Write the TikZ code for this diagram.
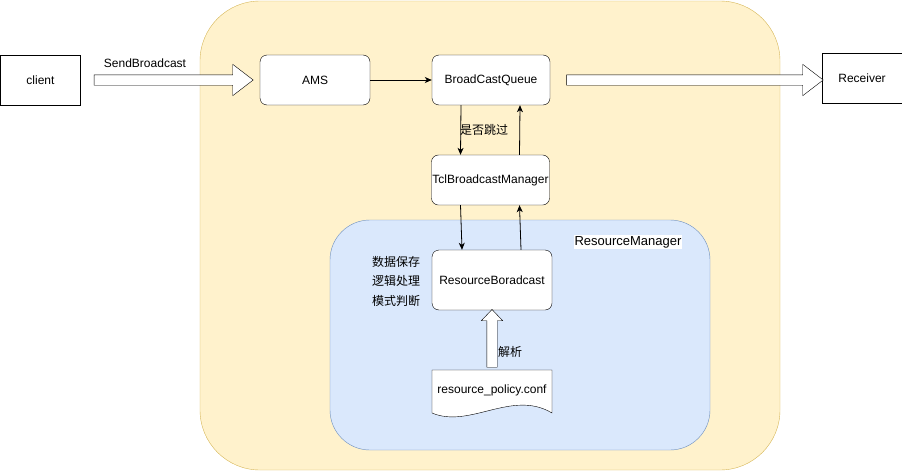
\documentclass[tikz,border=0pt]{standalone}
\usepackage{fontspec}
\setmainfont{Liberation Sans}
\newfontfamily\cjk{Noto Sans CJK SC}
\usetikzlibrary{arrows.meta,shapes.arrows,calc}

\definecolor{outerfill}{HTML}{FFF2CC}
\definecolor{outerdraw}{HTML}{D6B656}
\definecolor{innerfill}{HTML}{DAE8FC}
\definecolor{innerdraw}{HTML}{6C8EBF}

% hollow arrow from #1 to #2, shaft half width #3, extra options #4
\newcommand{\fatarrow}[4]{%
  \path let \p1=($(#2)-(#1)$), \n1={veclen(\x1,\y1)}, \n2={atan2(\y1,\x1)} in
    ($(#1)!0.5!(#2)$) node[single arrow, draw, fill=white, inner sep=#3,
      minimum height=\n1, rotate=\n2, #4] {};}

\begin{document}
\begin{tikzpicture}[x=1pt, y=-1pt,
  every node/.style={font=\fontsize{12}{14}\selectfont},
  cjktext/.style={font=\cjk\fontsize{12}{14}\selectfont},
  box/.style={draw, fill=white, minimum height=50, inner sep=1pt},
  rbox/.style={box, rounded corners=7},
  flow/.style={draw, line width=0.8pt, -{Stealth[length=7pt,width=6pt,inset=2pt]}}]
  \useasboundingbox (0,0) rectangle (902,471);

  % containers
  \draw[fill=outerfill, draw=outerdraw, rounded corners=60] (200,1) rectangle (780,470);
  \draw[fill=innerfill, draw=innerdraw, rounded corners=40] (330,220) rectangle (710,450);
  \node[fill=white, inner sep=1pt, font=\fontsize{13}{15}\selectfont] (rmlabel) at (628,242) {ResourceManager};

  \node[box, minimum width=80] (client) at (40.5,80) {client};
  \node[box, minimum width=80] (receiver) at (862,78) {Receiver};
  \node[rbox, minimum width=110] (ams) at (315,80) {AMS};
  \node[rbox, minimum width=118] (bcq) at (491,80) {BroadCastQueue};
  \node[rbox, minimum width=117] (tcl) at (490.5,180) {TclBroadcastManager};
  \node[rbox, minimum width=120, minimum height=60] (rb) at (492,280) {ResourceBoradcast};

  % document shape
  \coordinate (docc) at (492,390);
  \draw[fill=white] ($(docc)+(-60,-20)$) -- ($(docc)+(60,-20)$) -- ($(docc)+(60,23)$)
    .. controls +(-40,-24) and +(38,16) .. ($(docc)+(-60,23)$) -- cycle;
  \node (conf) at (docc) {resource\_policy.conf};

  \node (send) at (145,63) {SendBroadcast};
  \node[cjktext] (skip) at (484,130) {是否跳过};
  \node[cjktext] (parse) at (510,352) {解析};
  \node[cjktext, align=center, font=\cjk\fontsize{12}{19.5}\selectfont] (duties) at (396,281) {数据保存\\逻辑处理\\模式判断};

  \coordinate (a1) at ([xshift=10]client.east);
  \coordinate (a2) at ([xshift=-10]ams.west);
  \coordinate (b1) at ([xshift=13]bcq.east);
  \coordinate (b2) at ($(receiver.west |- bcq.east)+(-2,0)$);
  \coordinate (c1) at ($(docc)+(0,-20)$);
  \coordinate (c2) at ([yshift=-2pt]rb.south);
  \fatarrow{a1}{a2}{5pt}{single arrow head extend=10.5pt, single arrow tip angle=75}
  \fatarrow{b1}{b2}{5pt}{single arrow head extend=10.5pt, single arrow tip angle=75}
  \fatarrow{c1}{c2}{5pt}{single arrow head extend=5.5pt, single arrow tip angle=87}

  \draw[flow] (ams) -- (bcq);
  \draw[flow] ([xshift=-30]bcq.south) -- ([xshift=-30]tcl.north);
  \draw[flow] ([xshift=29]tcl.north) -- ([xshift=29]bcq.south);
  \draw[flow] ([xshift=-30]tcl.south) -- ([xshift=-30]rb.north);
  \draw[flow] ([xshift=29]rb.north) -- ([xshift=29]tcl.south);
\end{tikzpicture}
\end{document}
